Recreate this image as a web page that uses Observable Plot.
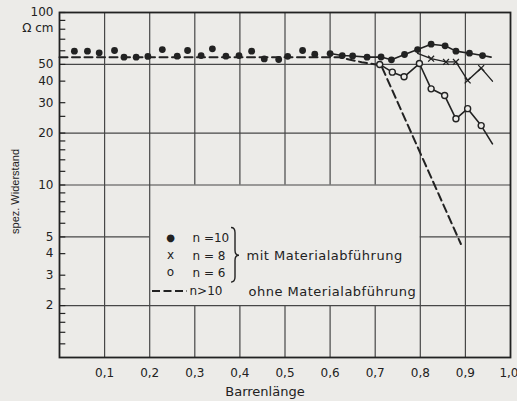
<!DOCTYPE html>
<html><head><meta charset="utf-8">
<script src="https://cdn.jsdelivr.net/npm/d3@7"></script>
<script src="https://cdn.jsdelivr.net/npm/@observablehq/plot@0.6"></script>
<style>html,body{margin:0;padding:0;background:#ecebe8;}</style>
</head><body><div id="chart"></div>
<script>
// ---- data ----
const xTicks = [0.1, 0.2, 0.3, 0.4, 0.5, 0.6, 0.7, 0.8, 0.9, 1.0];
const yLabels = [100, 60, 50, 40, 30, 20, 10, 8, 6, 5, 4, 3, 2];
const yMinor = [100, 90, 80, 70, 60, 50, 40, 30, 25, 20, 18, 16, 14, 12, 10, 9, 8, 7, 6, 5, 4, 3, 2.5, 2, 1.8, 1.6, 1.4, 1.2];

// n = 10 (filled dots); last value is line end only
const n10X = [0.033,0.062,0.088,0.122,0.143,0.170,0.196,0.228,0.261,0.284,0.314,0.339,0.369,0.398,0.426,0.454,0.486,0.506,0.539,0.566,0.600,0.627,0.650,0.682,0.713,0.736,0.765,0.794,0.824,0.855,0.879,0.909,0.938,0.957];
const n10Y = [59.7,59.7,58.4,60.2,55.1,55.1,55.6,61.0,55.8,60.2,56.3,61.6,55.8,56.3,59.7,53.8,53.4,55.7,60.2,57.3,57.8,56.3,56.0,55.1,55.2,53.2,57.1,61.0,65.5,64.1,59.7,58.1,56.3,55.1];
// n = 8 (crosses); first is line start, last is line end
const n8X = [0.794,0.824,0.857,0.879,0.905,0.935,0.960];
const n8Y = [58.0,54.0,51.7,51.7,40.4,47.6,40.0];
// n = 6 (open circles); last is line end
const n6X = [0.710,0.738,0.764,0.798,0.824,0.854,0.879,0.905,0.935,0.960];
const n6Y = [50.0,45.1,42.4,50.6,36.1,33.0,24.2,27.7,22.1,17.3];
// n > 10 (dashed, ohne Materialabführung)
const dashX = [0, 0.62, 0.67, 0.713, 0.89];
const dashY = [55, 55, 51.5, 49.5, 4.55];

const gridXFull = [0.1, 0.2, 0.8, 0.9];
const gridXBroken = [0.3, 0.4, 0.5, 0.6, 0.7];
const gridYFull = [50, 20, 10, 2];
const gridYBroken = [5];
const legendBoxX = [0.2, 0.8];
const legendBoxY = [2, 10];

const legendItems = [
  {sym: "●", label: "n =10"},
  {sym: "x", label: "n = 8"},
  {sym: "o", label: "n = 6"},
  {sym: null, label: "n>10"}
];
const groupLabels = ["mit Materialabführung", "ohne Materialabführung"];

// ---- build ----
const bg = "#ecebe8", ink = "#222222", gridC = "#474747";
const rows = (xs, ys) => xs.map((x, i) => ({x, y: ys[i], i}));
const n10 = rows(n10X, n10Y), n8 = rows(n8X, n8Y), n6 = rows(n6X, n6Y), dash = rows(dashX, dashY);

const vSeg = [];
gridXFull.forEach(x => vSeg.push({x, y1: 1, y2: 100}));
gridXBroken.forEach(x => { vSeg.push({x, y1: 1, y2: legendBoxY[0]}); vSeg.push({x, y1: legendBoxY[1], y2: 100}); });
const hSeg = [];
gridYFull.forEach(y => hSeg.push({y, x1: 0, x2: 1}));
gridYBroken.forEach(y => { hSeg.push({y, x1: 0, x2: legendBoxX[0]}); hSeg.push({y, x1: legendBoxX[1], x2: 1}); });

const font = "DejaVu Sans, Verdana, sans-serif";
const rowDy = i => 225.5 + i * 17.8;
const fmtX = d => d3.format(".1f")(d).replace(".", ",");

const legendMarks = [];
legendItems.forEach((d, i) => {
  if (d.sym) legendMarks.push(Plot.text([d.sym], {frameAnchor: "top-left", dx: 111, dy: rowDy(i) + (i === 0 ? 0 : -1), lineAnchor: "middle", textAnchor: "middle", fontSize: i === 0 ? 10 : 12}));
  legendMarks.push(Plot.text([d.label], {frameAnchor: "top-left", dx: i < 3 ? 133 : 130, dy: rowDy(i), lineAnchor: "middle", textAnchor: "start", fontSize: 12}));
});
legendMarks.push(Plot.text([groupLabels[0]], {frameAnchor: "top-left", dx: 187, dy: rowDy(1), lineAnchor: "middle", textAnchor: "start", fontSize: 13}));
legendMarks.push(Plot.text([groupLabels[1]], {frameAnchor: "top-left", dx: 189, dy: rowDy(3), lineAnchor: "middle", textAnchor: "start", fontSize: 13}));

const chart = Plot.plot({
  width: 517, height: 401,
  marginLeft: 59, marginRight: 7, marginTop: 12, marginBottom: 44,
  x: {domain: [0, 1]},
  y: {type: "log", domain: [1, 100]},
  style: {background: bg, color: ink, fontFamily: font},
  marks: [
    Plot.ruleX(vSeg, {x: "x", y1: "y1", y2: "y2", stroke: gridC, strokeWidth: 1.2}),
    Plot.ruleY(hSeg, {y: "y", x1: "x1", x2: "x2", stroke: gridC, strokeWidth: 1.2}),
    Plot.ruleY(yMinor, {y: d => d, x1: 0, x2: 0.014, stroke: ink, strokeWidth: 1.2}),
    Plot.frame({stroke: ink, strokeWidth: 1.8}),
    Plot.line(dash, {x: "x", y: "y", stroke: ink, strokeWidth: 2, strokeDasharray: "8,4.5"}),
    Plot.line(n10.filter(d => d.x >= 0.6), {x: "x", y: "y", stroke: ink, strokeWidth: 1.6}),
    Plot.line(n8, {x: "x", y: "y", stroke: ink, strokeWidth: 1.4}),
    Plot.line(n6, {x: "x", y: "y", stroke: ink, strokeWidth: 1.6}),
    Plot.dot(n10.filter(d => d.i < n10.length - 1), {x: "x", y: "y", r: 3.4, fill: ink}),
    Plot.dot(n8.filter(d => d.i > 0 && d.i < n8.length - 1), {x: "x", y: "y", r: 2.8, symbol: "times", stroke: ink, strokeWidth: 1.3}),
    Plot.dot(n6.filter(d => d.i < n6.length - 1), {x: "x", y: "y", r: 3, symbol: "circle", fill: bg, stroke: ink, strokeWidth: 1.4}),
    Plot.axisY(yLabels, {anchor: "left", tickSize: 0, tickPadding: 6, fontSize: 12, tickFormat: d => String(d)}),
    Plot.axisX(xTicks.slice(0, -1), {anchor: "bottom", tickSize: 0, tickPadding: 11, fontSize: 12, tickFormat: fmtX, label: null}),
    Plot.axisX(xTicks.slice(-1), {anchor: "bottom", tickSize: 0, tickPadding: 11, fontSize: 12, tickFormat: fmtX, label: null, textAnchor: "end", dx: 8}),
    Plot.text(["Ω cm"], {frameAnchor: "top-left", dx: -6, dy: 16, textAnchor: "end", lineAnchor: "middle", fontSize: 12}),
    Plot.text(["Barrenlänge"], {frameAnchor: "bottom", dx: -20, dy: 34, lineAnchor: "middle", textAnchor: "middle", fontSize: 13}),
    Plot.text(["spez. Widerstand"], {frameAnchor: "left", dx: -44, dy: 6.5, rotate: -90, textAnchor: "middle", lineAnchor: "middle", fontSize: 11, fontFamily: "Liberation Sans, Arial, sans-serif"}),
    ...legendMarks
  ]
});

// legend dash and brace
const svg = d3.select(chart);
const ox = 59, oy = 12;
svg.append("line")
  .attr("x1", ox + 93).attr("x2", ox + 128)
  .attr("y1", oy + rowDy(3)).attr("y2", oy + rowDy(3))
  .attr("stroke", ink).attr("stroke-width", 2).attr("stroke-dasharray", "8,3.5");
{
  const x = ox + 172, yT = oy + rowDy(0) - 10, yB = oy + rowDy(2) + 9, yM = oy + rowDy(1), w = 4, r = 5;
  svg.append("path")
    .attr("d", `M${x},${yT} Q${x+w},${yT} ${x+w},${yT+r} L${x+w},${yM-r} Q${x+w},${yM} ${x+2*w},${yM} Q${x+w},${yM} ${x+w},${yM+r} L${x+w},${yB-r} Q${x+w},${yB} ${x},${yB}`)
    .attr("fill", "none").attr("stroke", ink).attr("stroke-width", 1.4);
}
svg.selectAll("text").filter(function() { return /Materialabführung/.test(this.textContent); })
  .style("letter-spacing", "0.5px");
document.getElementById("chart").append(chart);
</script></body></html>
